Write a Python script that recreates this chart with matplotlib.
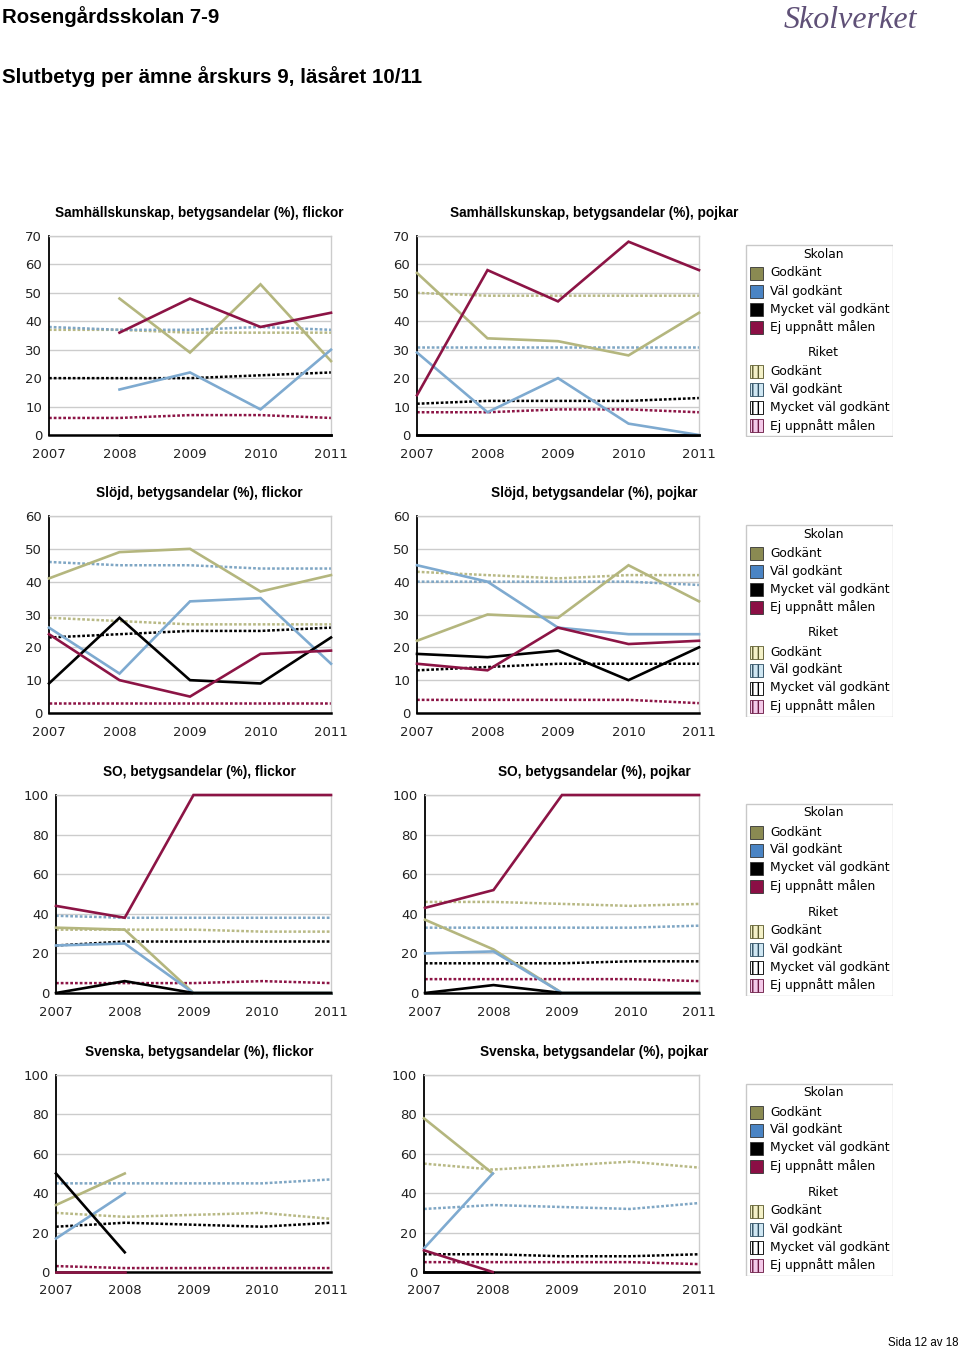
import matplotlib
matplotlib.use('Agg')
import matplotlib.pyplot as plt
import numpy as np
from matplotlib.patches import Rectangle

nan = np.nan
years = [2007, 2008, 2009, 2010, 2011]
grades = ['Godkänt', 'Väl godkänt', 'Mycket väl godkänt', 'Ej uppnått målen']

# order in every list: Godkänt, Väl godkänt, Mycket väl godkänt, Ej uppnått målen
samh_f_skolan = [[nan, 48, 29, 53, 26], [nan, 16, 22, 9, 30], [nan, 0, 0, 0, 0], [nan, 36, 48, 38, 43]]
samh_f_riket = [[37, 37, 36, 36, 36], [38, 37, 37, 38, 37], [20, 20, 20, 21, 22], [6, 6, 7, 7, 6]]
samh_p_skolan = [[57, 34, 33, 28, 43], [29, 8, 20, 4, 0], [0, 0, 0, 0, 0], [14, 58, 47, 68, 58]]
samh_p_riket = [[50, 49, 49, 49, 49], [31, 31, 31, 31, 31], [11, 12, 12, 12, 13], [8, 8, 9, 9, 8]]

slojd_f_skolan = [[41, 49, 50, 37, 42], [26, 12, 34, 35, 15], [9, 29, 10, 9, 23], [24, 10, 5, 18, 19]]
slojd_f_riket = [[29, 28, 27, 27, 27], [46, 45, 45, 44, 44], [23, 24, 25, 25, 26], [3, 3, 3, 3, 3]]
slojd_p_skolan = [[22, 30, 29, 45, 34], [45, 40, 26, 24, 24], [18, 17, 19, 10, 20], [15, 13, 26, 21, 22]]
slojd_p_riket = [[43, 42, 41, 42, 42], [40, 40, 40, 40, 39], [13, 14, 15, 15, 15], [4, 4, 4, 4, 3]]

so_f_skolan = [[33, 32, 0, 0, 0], [24, 25, 0, 0, 0], [0, 6, 0, 0, 0], [44, 38, 100, 100, 100]]
so_f_riket = [[32, 32, 32, 31, 31], [39, 38, 38, 38, 38], [24, 26, 26, 26, 26], [5, 5, 5, 6, 5]]
so_p_skolan = [[37, 22, 0, 0, 0], [20, 21, 0, 0, 0], [0, 4, 0, 0, 0], [43, 52, 100, 100, 100]]
so_p_riket = [[46, 46, 45, 44, 45], [33, 33, 33, 33, 34], [15, 15, 15, 16, 16], [7, 7, 7, 7, 6]]

sv_f_skolan = [[34, 50, nan, nan, nan], [17, 40, nan, nan, nan], [50, 10, nan, nan, nan], [0, 0, nan, nan, nan]]
sv_f_riket = [[30, 28, 29, 30, 27], [45, 45, 45, 45, 47], [23, 25, 24, 23, 25], [3, 2, 2, 2, 2]]
sv_p_skolan = [[78, 50, nan, nan, nan], [12, 50, nan, nan, nan], [0, 0, nan, nan, nan], [11, 0, nan, nan, nan]]
sv_p_riket = [[55, 52, 54, 56, 53], [32, 34, 33, 32, 35], [9, 9, 8, 8, 9], [5, 5, 5, 5, 4]]

school_colors = ['#b4b67e', '#7eaad0', '#000000', '#8c1445']
riket_colors = ['#b8b985', '#7fa6c4', '#000000', '#8c1445']
patch_school = ['#8a8a52', '#4a84c4', '#000000', '#8b0f45']
patch_riket_face = ['#f4f1c8', '#cfe7f3', '#ffffff', '#f3c9e8']
patch_riket_edge = ['#5e5d30', '#2f4f63', '#000000', '#6b1a45']

W, H = 960, 1351
fig = plt.figure(figsize=(9.6, 13.51), dpi=100)
fig.patch.set_facecolor('white')


def px_axes(x0, y0, x1, y1):
    return fig.add_axes([x0 / W, 1 - y1 / H, (x1 - x0) / W, (y1 - y0) / H])


def draw_chart(x0, x1, top, bottom, title, tcx, ymax, ystep, skolan, riket):
    ax = px_axes(x0, top, x1, bottom)
    for i in range(4):
        ax.plot(years, riket[i], color=riket_colors[i], lw=1.8, dashes=(1.1, 0.8),
                clip_on=False, zorder=2)
    for i in range(4):
        ax.plot(years, skolan[i], color=school_colors[i], lw=1.9,
                solid_joinstyle='miter', clip_on=False, zorder=3)
    ax.set_xlim(2007, 2011)
    ax.set_ylim(0, ymax)
    ax.set_xticks(years)
    ax.set_yticks(np.arange(0, ymax + 1, ystep))
    ax.tick_params(length=0, labelsize=9.5, labelcolor='#222222')
    ax.tick_params(axis='x', pad=9)
    ax.tick_params(axis='y', pad=5)
    ax.yaxis.grid(True, color='#cccccc', lw=1)
    ax.set_axisbelow(True)
    ax.spines['left'].set_color('black')
    ax.spines['left'].set_linewidth(1.3)
    ax.spines['bottom'].set_color('black')
    ax.spines['bottom'].set_linewidth(1.8)
    for s in ['top', 'right']:
        ax.spines[s].set_color('#cccccc')
        ax.spines[s].set_linewidth(1)
    fig.text(tcx / W, 1 - (top - 23) / H, title, ha='center', va='center',
             fontsize=9.8, fontweight='bold', family='Liberation Sans')
    return ax


def draw_legend(top):
    lg = px_axes(745, top, 893, top + 193)
    lg.set_xlim(0, 148)
    lg.set_ylim(193, 0)
    lg.axis('off')
    lg.add_patch(Rectangle((0.5, 0.5), 147, 192, fill=False, edgecolor='#c8c8c8', lw=1))
    lg.text(78, 10, 'Skolan', ha='center', va='center', fontsize=8.8)
    lg.text(78, 109, 'Riket', ha='center', va='center', fontsize=8.8)
    for i, g in enumerate(grades):
        y = 29 + 18 * i
        lg.add_patch(Rectangle((5, y - 6.5), 13, 13, facecolor=patch_school[i],
                               edgecolor='#333333', lw=0.6))
        lg.text(25, y, g, va='center', fontsize=8.8)
        y2 = 128 + 18 * i
        lg.add_patch(Rectangle((5, y2 - 6.5), 13, 13, facecolor=patch_riket_face[i],
                               edgecolor=patch_riket_edge[i], hatch='|||', lw=0.6))
        lg.text(25, y2, g, va='center', fontsize=8.8)


rows = [
    (236, 435, 49, 417, 70, 10, 'Samhällskunskap', samh_f_skolan, samh_f_riket, samh_p_skolan, samh_p_riket),
    (516, 713, 49, 417, 60, 10, 'Slöjd', slojd_f_skolan, slojd_f_riket, slojd_p_skolan, slojd_p_riket),
    (795, 993, 56, 425, 100, 20, 'SO', so_f_skolan, so_f_riket, so_p_skolan, so_p_riket),
    (1075, 1272, 56, 424, 100, 20, 'Svenska', sv_f_skolan, sv_f_riket, sv_p_skolan, sv_p_riket),
]

for top, bottom, lx, rx, ymax, ystep, subj, fs, fr, ps, pr in rows:
    draw_chart(lx, 331, top, bottom, subj + ', betygsandelar (%), flickor', 199, ymax, ystep, fs, fr)
    draw_chart(rx, 699, top, bottom, subj + ', betygsandelar (%), pojkar', 594, ymax, ystep, ps, pr)
    draw_legend(top + 8)

# page header / footer
fig.text(2 / W, 1 - 17 / H, 'Rosengårdsskolan 7-9', ha='left', va='center',
         fontsize=14.7, fontweight='bold', family='Liberation Sans')
fig.text(2 / W, 1 - 77 / H, 'Slutbetyg per ämne årskurs 9, läsåret 10/11', ha='left', va='center',
         fontsize=14.8, fontweight='bold', family='Liberation Sans')
fig.text(850 / W, 1 - 20 / H, 'Skolverket', ha='center', va='center', fontsize=23,
         style='italic', family='Liberation Serif', color='#5f5077')
fig.text(958 / W, 1 - 1343 / H, 'Sida 12 av 18', ha='right', va='center',
         fontsize=8.3, family='Liberation Sans')

fig.savefig('out.png', dpi=100)
